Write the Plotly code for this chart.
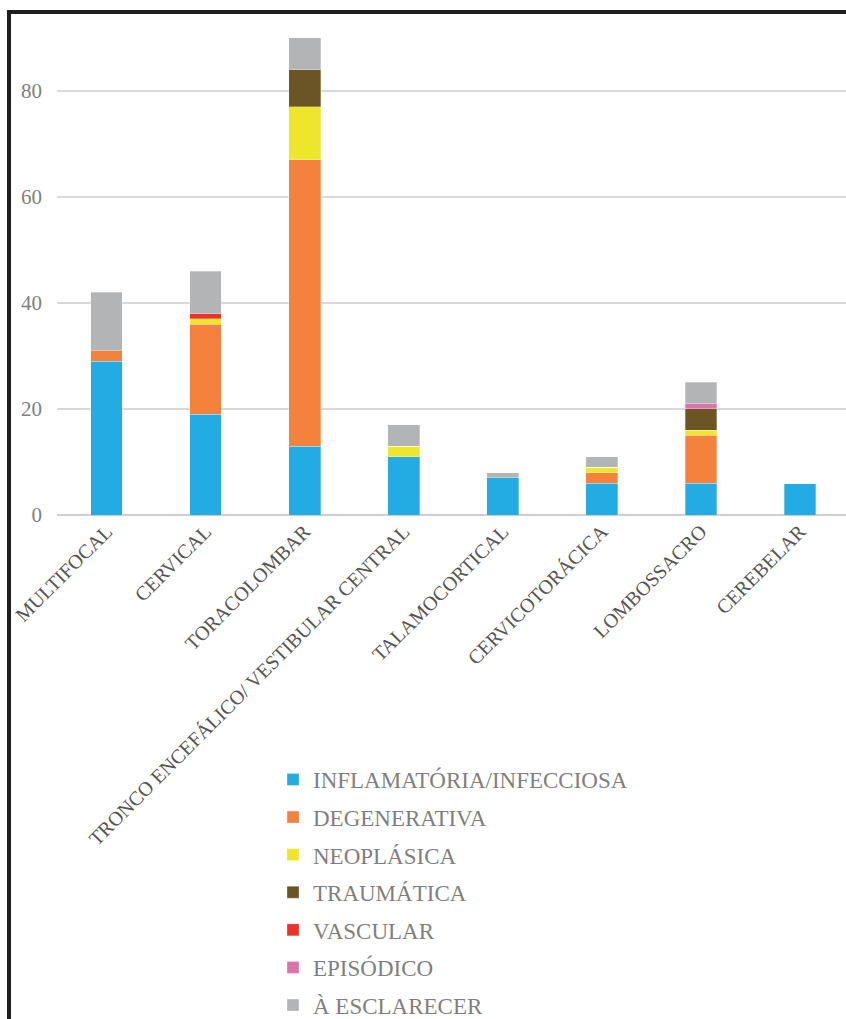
import plotly.graph_objects as go

categories = ["MULTIFOCAL", "CERVICAL", "TORACOLOMBAR", "TRONCO ENCEFÁLICO/ VESTIBULAR CENTRAL",
              "TALAMOCORTICAL", "CERVICOTORÁCICA", "LOMBOSSACRO", "CEREBELAR"]

inflamatoria = [29, 19, 13, 11, 7, 6, 6, 6]
degenerativa = [2, 17, 54, 0, 0, 2, 9, 0]
neoplasica = [0, 1, 10, 2, 0, 1, 1, 0]
traumatica = [0, 0, 7, 0, 0, 0, 4, 0]
vascular = [0, 1, 0, 0, 0, 0, 0, 0]
episodico = [0, 0, 0, 0, 0, 0, 1, 0]
esclarecer = [11, 8, 6, 4, 1, 2, 4, 0]

series = [
    ("INFLAMATÓRIA/INFECCIOSA", inflamatoria, "#22ACE3"),
    ("DEGENERATIVA", degenerativa, "#F4823C"),
    ("NEOPLÁSICA", neoplasica, "#EDE62A"),
    ("TRAUMÁTICA", traumatica, "#6B5522"),
    ("VASCULAR", vascular, "#EE3129"),
    ("EPISÓDICO", episodico, "#DD73AE"),
    ("À ESCLARECER", esclarecer, "#B2B4B6"),
]

fig = go.Figure()
for i, (name, vals, color) in enumerate(series):
    fig.add_trace(go.Bar(
        x=categories, y=vals, name=name, legendgroup=f"g{i}",
        marker=dict(color=color, line=dict(color="rgba(255,255,255,0.6)", width=0.5)),
    ))

W, H = 846, 1019
L, R, T, B = 57, 0, 30, 504
pw = W - L - R
ph = H - T - B

def px_x(p):
    return (p - L) / pw

def px_y(p):
    return (H - B - p) / ph

fig.update_layout(
    width=W, height=H, autosize=False,
    margin=dict(l=L, r=R, t=T, b=B, pad=0, autoexpand=False),
    barmode="stack", bargap=0.68,
    plot_bgcolor="white", paper_bgcolor="white",
    font=dict(family="Liberation Serif", color="#7a7a7a", size=20),
    xaxis=dict(
        range=[-0.5, 7.465], tickangle=-45, showgrid=False, showline=False,
        tickfont=dict(family="Liberation Serif", size=20, color="#555555"),
        ticks="", zeroline=False, automargin=False,
    ),
    yaxis=dict(
        range=[0, 91.5], tickvals=[0, 20, 40, 60, 80], showgrid=True,
        gridcolor="#d9d9d9", gridwidth=1.5, zeroline=True, zerolinecolor="#cfcfcf",
        zerolinewidth=2, showline=False, ticks="", automargin=False,
        tickfont=dict(family="Liberation Serif", size=21, color="#808080"),
        ticklabelstandoff=14,
    ),
    legend=dict(
        xref="container", yref="container",
        x=273 / W, y=1 - 758 / H, xanchor="left", yanchor="top",
        orientation="v", traceorder="grouped", tracegroupgap=4.7,
        font=dict(family="Liberation Serif", size=23, color="#7f7f7f"),
        itemclick=False, itemdoubleclick=False,
    ),
    showlegend=True,
    shapes=[dict(
        type="rect", xref="paper", yref="paper",
        x0=px_x(9), x1=px_x(900), y0=px_y(1100), y1=px_y(12),
        line=dict(color="#1e1e1e", width=4), fillcolor="rgba(0,0,0,0)", layer="above",
    )],
)

fig.write_html("out.html")
